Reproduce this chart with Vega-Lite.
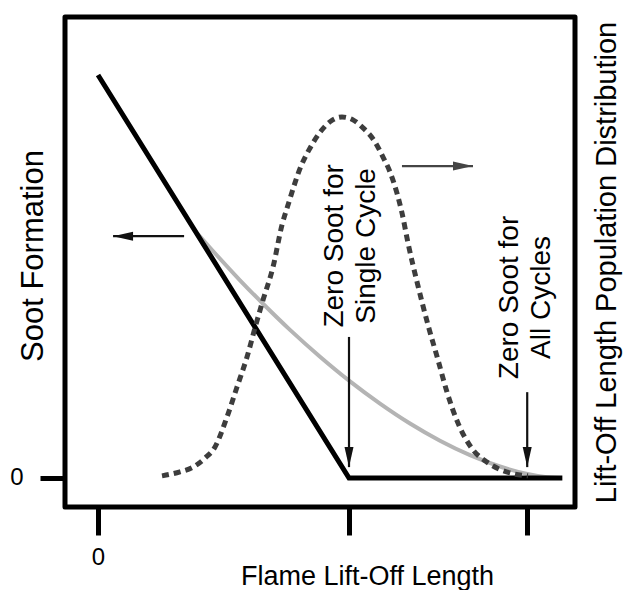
{
  "$schema": "https://vega.github.io/schema/vega-lite/v6.json",
  "width": 510,
  "height": 490,
  "autosize": {"type": "none"},
  "padding": {"left": 65, "top": 17, "right": 50, "bottom": 83},
  "config": {
    "font": "Liberation Sans",
    "view": {"stroke": "black", "strokeWidth": 5, "strokeJoin": "round"},
    "axis": {
      "grid": false,
      "domain": false,
      "labelColor": "black",
      "titleColor": "black",
      "tickColor": "black",
      "titleFontWeight": "normal",
      "labelFont": "Liberation Sans",
      "titleFont": "Liberation Sans"
    }
  },
  "datasets": {
    "soot": [
      {"x": 0, "y": 10},
      {"x": 10, "y": 0},
      {"x": 18.5, "y": 0}
    ],
    "smoothed": [
      {"x": 3.944, "y": 6.079},
      {"x": 4.661, "y": 5.576},
      {"x": 5.657, "y": 4.906},
      {"x": 6.574, "y": 4.323},
      {"x": 7.649, "y": 3.675},
      {"x": 8.845, "y": 3.01},
      {"x": 10.04, "y": 2.397},
      {"x": 11.235, "y": 1.846},
      {"x": 12.43, "y": 1.352},
      {"x": 13.625, "y": 0.926},
      {"x": 14.821, "y": 0.568},
      {"x": 16.016, "y": 0.285},
      {"x": 17.012, "y": 0.114},
      {"x": 17.809, "y": 0.027},
      {"x": 18.406, "y": 0}
    ],
    "population": [
      {"x": 2.55, "p": 0.006},
      {"x": 3.267, "p": 0.017},
      {"x": 3.785, "p": 0.03},
      {"x": 4.263, "p": 0.055},
      {"x": 4.661, "p": 0.086},
      {"x": 5.139, "p": 0.169},
      {"x": 5.538, "p": 0.252},
      {"x": 5.936, "p": 0.335},
      {"x": 6.255, "p": 0.416},
      {"x": 6.574, "p": 0.493},
      {"x": 6.972, "p": 0.584},
      {"x": 7.331, "p": 0.701},
      {"x": 7.57, "p": 0.756},
      {"x": 8.088, "p": 0.864},
      {"x": 8.406, "p": 0.909},
      {"x": 8.884, "p": 0.961},
      {"x": 9.283, "p": 0.989},
      {"x": 9.721, "p": 1.0},
      {"x": 10.159, "p": 0.992},
      {"x": 10.558, "p": 0.97},
      {"x": 11.036, "p": 0.931},
      {"x": 11.355, "p": 0.889},
      {"x": 11.633, "p": 0.848},
      {"x": 11.912, "p": 0.789},
      {"x": 12.112, "p": 0.734},
      {"x": 12.351, "p": 0.651},
      {"x": 12.749, "p": 0.532},
      {"x": 13.147, "p": 0.424},
      {"x": 13.546, "p": 0.327},
      {"x": 13.904, "p": 0.238},
      {"x": 14.343, "p": 0.152},
      {"x": 14.94, "p": 0.078},
      {"x": 15.498, "p": 0.044},
      {"x": 16.414, "p": 0.014},
      {"x": 17.131, "p": 0.006}
    ],
    "arrows": [
      {"x": 3.43, "y": 6.0, "x2": 0.6, "y2": 6.0, "dir": "left", "side": "soot"},
      {"x": 12.11, "y": 7.74, "x2": 14.94, "y2": 7.74, "dir": "right", "side": "population"},
      {"x": 10, "y": 3.5, "x2": 10, "y2": 0.27, "dir": "down", "side": "soot"},
      {"x": 17.1, "y": 2.13, "x2": 17.1, "y2": 0.27, "dir": "down", "side": "soot"}
    ],
    "notes": [
      {"x": 9.44, "y": 5.76, "label": ["Zero Soot for", "Single Cycle"]},
      {"x": 16.41, "y": 4.48, "label": ["Zero Soot for", "All Cycles"]}
    ]
  },
  "layer": [
    {
      "encoding": {
        "x": {
          "field": "x",
          "type": "quantitative",
          "scale": {"domain": [-1.315, 19.004], "nice": false, "zero": false},
          "axis": {
            "values": [0, 10, 17.1],
            "labelExpr": "datum.value === 0 ? '0' : ''",
            "tickSize": 28,
            "tickWidth": 5,
            "labelFontSize": 24,
            "labelPadding": 10,
            "title": "Flame Lift-Off Length",
            "titleFontSize": 27,
            "titleX": 302,
            "titleY": 77,
            "titleAlign": "center",
            "titleBaseline": "alphabetic"
          }
        },
        "y": {
          "field": "y",
          "type": "quantitative",
          "scale": {"domain": [-0.7196, 11.439], "nice": false, "zero": false},
          "axis": {
            "orient": "left",
            "values": [0],
            "tickSize": 25,
            "tickWidth": 5,
            "labelFontSize": 24,
            "labelPadding": 17,
            "title": "Soot Formation",
            "titleFontSize": 31,
            "titleAngle": 270,
            "titleAlign": "center",
            "titleBaseline": "alphabetic",
            "titleX": -23,
            "titleY": 238.5
          }
        }
      },
      "layer": [
        {
          "data": {"name": "smoothed"},
          "mark": {"type": "line", "color": "#b4b4b4", "strokeWidth": 4, "interpolate": "monotone"}
        },
        {
          "data": {"name": "soot"},
          "mark": {"type": "line", "color": "black", "strokeWidth": 5, "strokeJoin": "miter"}
        },
        {
          "data": {"name": "arrows"},
          "mark": {"type": "rule", "strokeWidth": 2.2},
          "encoding": {
            "x2": {"field": "x2"},
            "y2": {"field": "y2"},
            "color": {
              "field": "side",
              "type": "nominal",
              "scale": {"domain": ["soot", "population"], "range": ["#111111", "#444444"]},
              "legend": null
            }
          }
        },
        {
          "data": {"name": "arrows"},
          "mark": {"type": "point", "filled": true, "opacity": 1, "size": 400, "strokeWidth": 0},
          "encoding": {
            "x": {"field": "x2", "type": "quantitative"},
            "y": {"field": "y2", "type": "quantitative"},
            "shape": {
              "field": "dir",
              "type": "nominal",
              "scale": {
                "domain": ["left", "right", "down"],
                "range": ["M0,0L2,-0.45L2,0.45Z", "M0,0L-2,-0.45L-2,0.45Z", "M0,0L-0.45,-2L0.45,-2Z"]
              },
              "legend": null
            },
            "color": {
              "field": "side",
              "type": "nominal",
              "scale": {"domain": ["soot", "population"], "range": ["#111111", "#444444"]},
              "legend": null
            }
          }
        },
        {
          "data": {"name": "notes"},
          "mark": {
            "type": "text",
            "angle": 270,
            "align": "center",
            "baseline": "middle",
            "fontSize": 28,
            "lineHeight": 32,
            "color": "black"
          },
          "encoding": {
            "text": {"field": "label", "type": "nominal"}
          }
        }
      ]
    },
    {
      "data": {"name": "population"},
      "mark": {
        "type": "line",
        "color": "#3d3d3d",
        "strokeWidth": 5,
        "strokeDash": [7, 5],
        "interpolate": "monotone"
      },
      "encoding": {
        "x": {
          "field": "x",
          "type": "quantitative",
          "scale": {"domain": [-1.315, 19.004], "nice": false, "zero": false}
        },
        "y": {
          "field": "p",
          "type": "quantitative",
          "scale": {"domain": [-0.0803, 1.277], "nice": false, "zero": false},
          "axis": {
            "orient": "right",
            "ticks": false,
            "labels": false,
            "domain": false,
            "title": "Lift-Off Length Population Distribution",
            "titleFontSize": 29,
            "titleAngle": 270,
            "titleAlign": "center",
            "titleBaseline": "alphabetic",
            "titleX": 40,
            "titleY": 245
          }
        }
      }
    }
  ],
  "resolve": {"scale": {"y": "independent"}}
}
